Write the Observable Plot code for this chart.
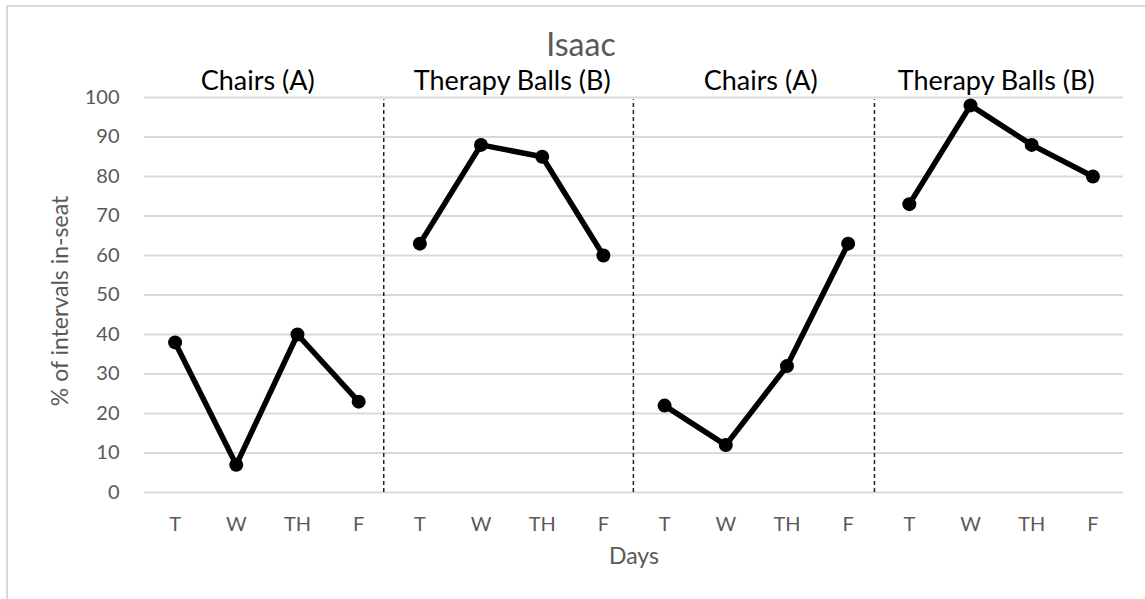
<!DOCTYPE html>
<html>
<head>
<meta charset="utf-8">
<script src="https://cdn.jsdelivr.net/npm/d3@7"></script>
<script src="https://cdn.jsdelivr.net/npm/@observablehq/plot@0.6"></script>
<style>
  html, body { margin: 0; padding: 0; background: #fff; overflow: hidden; }
  #wrap { position: relative; width: 1145px; height: 599px; font-family: Lato, "Open Sans", sans-serif; }
  #frame { position: absolute; left: 6px; top: 5px; width: 1200px; height: 700px; border-left: 2px solid #d9d9d9; border-top: 2px solid #d9d9d9; }
  #title { position: absolute; left: 0; width: 1162px; top: 28px; text-align: center; font-size: 32px; color: #595959; line-height: 1; }
  #chart { position: absolute; left: 0; top: 0; }
</style>
</head>
<body>
<div id="wrap">
  <div id="frame"></div>
  <div id="chart"></div>
  <div id="title">Isaac</div>
</div>
<script>
// Data
const days = ["T", "W", "TH", "F", "T", "W", "TH", "F", "T", "W", "TH", "F", "T", "W", "TH", "F"];
const phaseOf = [0, 0, 0, 0, 1, 1, 1, 1, 2, 2, 2, 2, 3, 3, 3, 3];
const inSeat = [38, 7, 40, 23, 63, 88, 85, 60, 22, 12, 32, 63, 73, 98, 88, 80];
const phaseNames = ["Chairs (A)", "Therapy Balls (B)", "Chairs (A)", "Therapy Balls (B)"];
const phaseLabelAt = [1.35, 5.51, 9.57, 13.42];
const phaseChangeAt = [3.41, 7.49, 11.43];
const yTicks = [0, 10, 20, 30, 40, 50, 60, 70, 80, 90, 100];

const rows = inSeat.map((v, i) => ({i, day: days[i], phase: phaseOf[i], v}));
const labels = phaseNames.map((name, k) => ({name, x: phaseLabelAt[k]}));

const chart = Plot.plot({
  width: 1145,
  height: 599,
  marginLeft: 144,
  marginRight: 22,
  marginTop: 97,
  marginBottom: 107,
  style: {fontFamily: "Lato, 'Open Sans', sans-serif", background: "transparent", overflow: "visible"},
  x: {domain: [-0.5, 15.5], axis: null},
  y: {domain: [0, 100], axis: null},
  marks: [
    Plot.ruleY(yTicks, {stroke: "#d9d9d9", strokeWidth: 2}),
    Plot.ruleX(phaseChangeAt, {y1: 0, y2: 99.4, stroke: "#222", strokeWidth: 1.5, strokeDasharray: "4,3"}),
    Plot.axisY({ticks: yTicks, tickSize: 0, tickPadding: 25, fontSize: 20, fill: "#595959", label: null}),
    Plot.axisX({ticks: d3.range(16), tickFormat: i => days[i], tickSize: 0, tickPadding: 24, fontSize: 20, fill: "#595959", label: null}),
    Plot.text(["% of intervals in-seat"], {frameAnchor: "left", textAnchor: "middle", lineAnchor: "middle", dx: -84, dy: 6, rotate: -90, fontSize: 23, fill: "#595959"}),
    Plot.text(["Days"], {frameAnchor: "bottom", textAnchor: "middle", dy: 71, fontSize: 23, fill: "#595959"}),
    Plot.text(labels, {x: "x", y: () => 100, text: "name", lineAnchor: "bottom", dy: -8, fontSize: 27, fill: "#000"}),
    Plot.line(rows, {x: "i", y: "v", z: "phase", stroke: "#000", strokeWidth: 5.5, strokeLinejoin: "round"}),
    Plot.dot(rows, {x: "i", y: "v", r: 7, fill: "#000", stroke: "none"})
  ]
});
document.getElementById("chart").appendChild(chart);
</script>
</body>
</html>
